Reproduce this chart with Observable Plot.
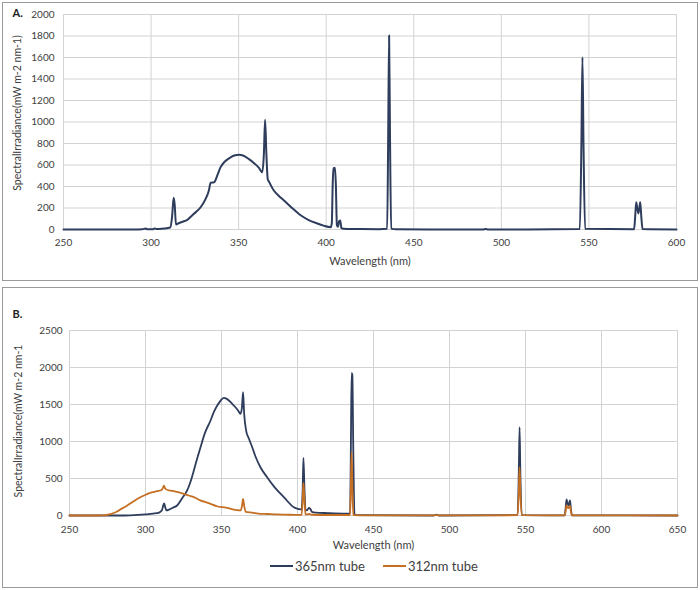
<!DOCTYPE html>
<html>
<head>
<meta charset="utf-8">
<script src="https://cdn.jsdelivr.net/npm/d3@7"></script>
<script src="https://cdn.jsdelivr.net/npm/@observablehq/plot@0.6"></script>
<style>
  html, body { margin: 0; padding: 0; background: #fff; }
  #root { position: relative; width: 700px; height: 590px; font-family: Lato, "Open Sans", sans-serif; }
  .box { position: absolute; left: 2px; width: 694px; border: 1px solid #9a9a9a; background: #fff; }
  #boxA { top: 2px; height: 277px; }
  #boxB { top: 287px; height: 299px; }
  .box svg { display: block; }
  #legend { position: absolute; left: 267px; top: 268px; height: 20px; display: flex; align-items: center; font-size: 13px; color: #404040; }
  .item { display: flex; align-items: center; margin-right: 18px; }
  .swatch { width: 23px; height: 2px; margin-right: 2px; }
</style>
</head>
<body>
<div id="root">
  <div class="box" id="boxA"></div>
  <div class="box" id="boxB"><div id="legend"></div></div>
</div>
<script>
// ---------- Panel A: 365nm tube ----------
const aWavelength = [250, 290, 295, 297, 298, 301, 302, 303, 306, 309, 311, 312, 312.9, 313.5, 314.2, 316, 318, 320.7, 324, 328.3, 331, 333, 334, 336, 338, 339.7, 342, 345.4, 348, 350.2, 352.5, 355.9, 359, 361.5, 363.5, 364.4, 365.1, 365.8, 366.6, 367.5, 370, 373, 375.9, 380, 385.4, 390, 395, 398.5, 402.6, 403.2, 403.7, 404.2, 405, 405.5, 406.1, 406.7, 407.4, 408, 408.7, 410, 420, 430, 434.8, 435.4, 435.9, 436.4, 437.1, 440, 460, 489.5, 491, 492.5, 544.8, 545.7, 546.3, 546.9, 547.8, 575.8, 576.4, 577, 577.6, 578.2, 578.8, 579.3, 579.9, 580.6, 600];
const aIrradiance = [0, 0, 2, 10, 2, 3, 10, 4, 6, 12, 20, 120, 295, 230, 47, 60, 72, 90, 140, 207, 280, 363, 435, 440, 510, 580, 630, 672, 690, 695, 688, 655, 615, 575, 533, 700, 1020, 720, 470, 440, 365, 312, 270, 208, 132, 88, 56, 36, 22, 60, 420, 570, 575, 420, 40, 25, 80, 84, 12, 8, 4, 3, 6, 900, 1805, 900, 8, 2, 1, 0, 5, 0, 4, 800, 1603, 800, 6, 2, 120, 254, 200, 150, 200, 254, 120, 4, 0];

// ---------- Panel B: 365nm tube ----------
const b365Wavelength = [250, 285, 290, 295, 300, 305, 309, 310.8, 311.6, 312.3, 313, 313.8, 316, 318, 320.8, 324, 327.4, 329.5, 331.8, 334, 336.2, 339, 342.8, 345, 347.2, 349.3, 351.5, 353.2, 354.9, 357, 359.2, 361, 362.5, 363.4, 364.2, 364.9, 366.2, 368, 370.2, 372.5, 375.6, 380, 385, 391, 397.6, 401, 402.7, 403.4, 403.9, 404.6, 405.3, 406.2, 407.5, 408.4, 409.5, 412, 420, 430, 434.6, 435.1, 435.6, 436.1, 436.7, 437.5, 440, 489.5, 491.4, 493, 544.8, 545.6, 546.1, 546.6, 547.5, 575.8, 576.4, 577, 577.6, 578.2, 578.8, 579.3, 579.9, 580.6, 650];
const b365Irradiance = [0, 0, 3, 8, 15, 25, 40, 70, 130, 165, 110, 68, 85, 105, 135, 230, 338, 450, 608, 770, 923, 1110, 1284, 1400, 1486, 1550, 1590, 1580, 1554, 1510, 1463, 1415, 1374, 1450, 1666, 1380, 1148, 1040, 923, 790, 652, 517, 380, 248, 112, 85, 80, 350, 779, 350, 80, 70, 104, 90, 50, 40, 32, 26, 30, 900, 1928, 1900, 900, 12, 4, 0, 10, 0, 5, 600, 1193, 600, 5, 2, 100, 216, 170, 135, 170, 205, 80, 3, 0];

// ---------- Panel B: 312nm tube ----------
const b312Wavelength = [250, 265, 272, 277, 281, 285, 288, 292, 296, 299, 303, 307.7, 310.5, 311.4, 312.1, 312.9, 314.5, 316.5, 318.6, 322, 325.2, 328.5, 331.8, 336, 339.5, 342.8, 347, 350.5, 353.7, 357.5, 360.5, 362.5, 363.4, 364.2, 365, 366, 370, 375.6, 380, 385, 390, 395, 402.7, 403.4, 403.9, 404.6, 405.3, 406.2, 407.5, 408.4, 409.5, 420, 434.6, 435.1, 435.6, 436.1, 436.7, 437.5, 440, 489.5, 491.4, 493, 544.8, 545.6, 546.1, 546.6, 547.5, 575.8, 576.4, 577, 577.6, 578.2, 578.8, 579.3, 579.9, 580.6, 650];
const b312Irradiance = [0, 0, 3, 20, 50, 100, 135, 190, 240, 270, 305, 329, 345, 370, 405, 365, 345, 335, 329, 312, 293, 270, 248, 205, 180, 158, 125, 112, 104, 82, 72, 68, 120, 225, 120, 50, 40, 23, 20, 16, 13, 10, 9, 200, 440, 200, 12, 14, 20, 16, 10, 7, 7, 400, 855, 400, 7, 4, 2, 2, 6, 2, 4, 330, 653, 330, 4, 2, 60, 135, 110, 100, 120, 130, 50, 2, 0];

// ---------- Ticks, labels, colours ----------
const xTicksA = [250, 300, 350, 400, 450, 500, 550, 600];
const yTicksA = [0, 200, 400, 600, 800, 1000, 1200, 1400, 1600, 1800, 2000];
const xTicksB = [250, 300, 350, 400, 450, 500, 550, 600, 650];
const yTicksB = [0, 500, 1000, 1500, 2000, 2500];
const xTitle = "Wavelength (nm)";
const yTitleA = "SpectralIrradiance(mW m-2 nm-1)";
const yTitleB = "SpectralIrradiance(mW m-2 nm-1";
const seriesNames = ["365nm tube", "312nm tube"];
const seriesColors = ["#2e3d5c", "#c56f23"];

const dataA = aWavelength.map((w, i) => ({w, v: aIrradiance[i]}));
const data365 = b365Wavelength.map((w, i) => ({w, v: b365Irradiance[i]}));
const data312 = b312Wavelength.map((w, i) => ({w, v: b312Irradiance[i]}));

const gridStyle = {stroke: "#d3d3d3", strokeOpacity: 1, strokeWidth: 1};
const fmt = d => String(d);
const baseStyle = {fontFamily: "Lato, 'Open Sans', sans-serif", fontSize: "10px", color: "#404040", background: "white", overflow: "visible"};

const chartA = Plot.plot({
  width: 694, height: 277,
  marginLeft: 60, marginRight: 21, marginTop: 11, marginBottom: 51,
  x: {domain: [250, 600]},
  y: {domain: [0, 2000]},
  style: baseStyle,
  marks: [
    Plot.gridX(xTicksA, gridStyle),
    Plot.gridY(yTicksA, gridStyle),
    Plot.axisX(xTicksA, {tickSize: 0, tickPadding: 9, label: null, tickFormat: fmt}),
    Plot.axisY(yTicksA, {tickSize: 0, tickPadding: 9, label: null, tickFormat: fmt}),
    Plot.line(dataA, {x: "w", y: "v", stroke: seriesColors[0], strokeWidth: 2, curve: "monotone-x"}),
    Plot.text([xTitle], {text: d => d, frameAnchor: "bottom", textAnchor: "middle", lineAnchor: "middle", dy: 32, fontSize: 11, fill: "#404040"}),
    Plot.text([yTitleA], {text: d => d, frameAnchor: "left", textAnchor: "middle", lineAnchor: "middle", rotate: -90, dx: -46, dy: -9, fontSize: 10.5, fill: "#404040"}),
    Plot.text(["A."], {text: d => d, frameAnchor: "top-left", textAnchor: "start", lineAnchor: "middle", dx: -51, dy: -1, fontSize: 11, fontWeight: "bold", fill: "#222"})
  ]
});
document.getElementById("boxA").appendChild(chartA);

const chartB = Plot.plot({
  width: 694, height: 268,
  marginLeft: 66, marginRight: 20, marginTop: 42, marginBottom: 41,
  x: {domain: [250, 650]},
  y: {domain: [0, 2500]},
  style: baseStyle,
  marks: [
    Plot.gridX(xTicksB, gridStyle),
    Plot.gridY(yTicksB, gridStyle),
    Plot.axisX(xTicksB, {tickSize: 0, tickPadding: 10, label: null, tickFormat: fmt}),
    Plot.axisY(yTicksB, {tickSize: 0, tickPadding: 7, label: null, tickFormat: fmt}),
    Plot.line(data365, {x: "w", y: "v", stroke: seriesColors[0], strokeWidth: 1.8, curve: "monotone-x"}),
    Plot.line(data312, {x: "w", y: "v", stroke: seriesColors[1], strokeWidth: 1.8, curve: "monotone-x"}),
    Plot.text([xTitle], {text: d => d, frameAnchor: "bottom", textAnchor: "middle", lineAnchor: "middle", dy: 30, fontSize: 11, fill: "#404040"}),
    Plot.text([yTitleB], {text: d => d, frameAnchor: "left", textAnchor: "middle", lineAnchor: "middle", rotate: -90, dx: -51, dy: -2, fontSize: 10.5, fill: "#404040"}),
    Plot.text(["B."], {text: d => d, frameAnchor: "top-left", textAnchor: "start", lineAnchor: "middle", dx: -57, dy: -16, fontSize: 11, fontWeight: "bold", fill: "#222"})
  ]
});
const boxB = document.getElementById("boxB");
boxB.insertBefore(chartB, boxB.firstChild);

const legend = document.getElementById("legend");
seriesNames.forEach((name, i) => {
  const item = document.createElement("div");
  item.className = "item";
  const sw = document.createElement("span");
  sw.className = "swatch";
  sw.style.background = seriesColors[i];
  const label = document.createElement("span");
  label.textContent = name;
  item.appendChild(sw);
  item.appendChild(label);
  legend.appendChild(item);
});
</script>
</body>
</html>
